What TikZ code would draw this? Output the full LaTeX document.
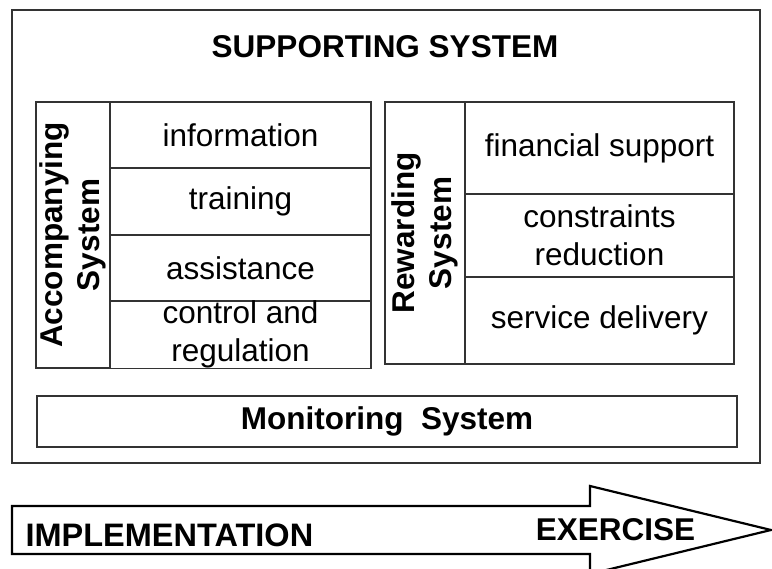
\documentclass[tikz,border=0pt]{standalone}
\usepackage{fontspec}
\setmainfont{Liberation Sans}
\usetikzlibrary{positioning}
\definecolor{linegray}{HTML}{333333}

\begin{document}
\begin{tikzpicture}[
  x=1pt, y=-1pt,
  frame/.style={draw=linegray, line width=1.3pt, inner sep=0pt, outer sep=0pt},
  cell/.style={frame, align=center, font=\fontsize{31.5}{38}\selectfont},
  sidelabel/.style={frame, rotate=90, align=center,
                    font=\fontsize{31.5}{37}\selectfont\bfseries},
  heading/.style={anchor=base, font=\fontsize{31.5}{38}\selectfont\bfseries},
]
  \fill[white] (0,0) rectangle (772,569);
  \useasboundingbox (0,0) rectangle (772,569);
  \clip (0,0) rectangle (772,569);

  % Supporting system
  \node[frame, line width=1.5pt, minimum width=748pt, minimum height=453pt]
    (sup) at (386,236.5) {};
  \node[heading] (suptitle) at (385,58) {SUPPORTING SYSTEM};

  % Accompanying system
  \node[sidelabel, minimum width=266pt, minimum height=74pt]
    (acc) at (73,235) {Accompanying\\System};
  \node[cell, minimum width=261pt, minimum height=66pt]
    (info) at (240.5,135) {information};
  \node[cell, minimum width=261pt, minimum height=67pt, below=0pt of info]
    (train) {training};
  \node[cell, minimum width=261pt, minimum height=66pt, below=0pt of train]
    (assist) {assistance};
  \node[cell, minimum width=261pt, minimum height=67pt, below=0pt of assist]
    (control) {control and\\regulation};

  % Rewarding system
  \node[sidelabel, minimum width=262pt, minimum height=80pt]
    (rew) at (425,233) {Rewarding\\System};
  \node[cell, minimum width=269pt, minimum height=92pt]
    (finance) at (599.5,148) {financial support};
  \node[cell, minimum width=269pt, minimum height=83pt, below=0pt of finance]
    (constr) {constraints\\reduction};
  \node[cell, minimum width=269pt, minimum height=87pt, below=0pt of constr]
    (service) {service delivery};

  % Monitoring system
  \node[frame, minimum width=700pt, minimum height=51pt,
        font=\fontsize{31.5}{38}\selectfont\bfseries]
    (monitor) at (387,421.5) {Monitoring\ \ System};

  % Implementation arrow
  \draw[line width=2.2pt, fill=white] (12,506) -- (590,506) -- (590,486)
    -- (771,530) -- (590,574) -- (590,554) -- (12,554) -- cycle;
  \node[heading, anchor=base west, font=\fontsize{32.5}{38}\selectfont\bfseries]
    (impl) at (22,547) {IMPLEMENTATION};
  \node[heading] (exer) at (615.5,540) {EXERCISE};
\end{tikzpicture}
\end{document}
